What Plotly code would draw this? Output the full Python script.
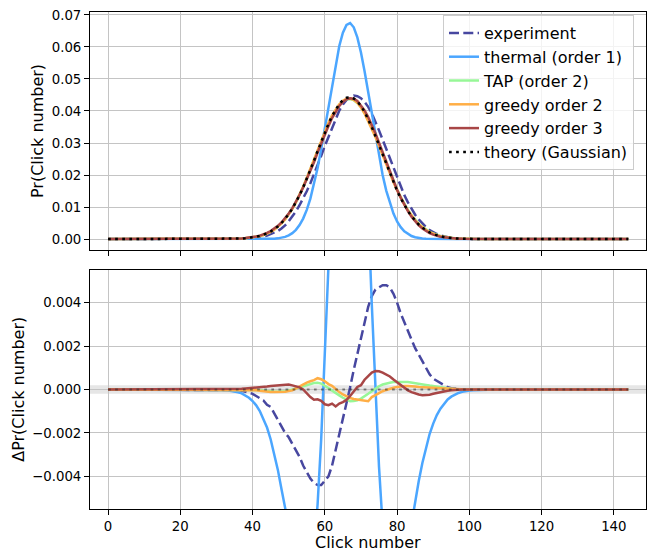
import plotly.graph_objects as go

# ---------------- data ----------------
clicks = list(range(145))
xticks = [0, 20, 40, 60, 80, 100, 120, 140]

# theory (Gaussian) probability, clicks 30..104 (zero elsewhere)
theory_start = 30
theory_core = [
    0.00001, 0.00002, 0.00003, 0.00004, 0.00006, 0.00009, 0.00013, 0.00018, 0.00027, 0.00038,
    0.00053, 0.00073, 0.00099, 0.00134, 0.00179, 0.00236, 0.00307, 0.00394, 0.00500, 0.00626,
    0.00776, 0.00949, 0.01146, 0.01368, 0.01612, 0.01876, 0.02157, 0.02448, 0.02747, 0.03043,
    0.03330, 0.03599, 0.03843, 0.04052, 0.04221, 0.04342, 0.04413, 0.04429, 0.04391, 0.04300,
    0.04158, 0.03973, 0.03749, 0.03494, 0.03217, 0.02925, 0.02627, 0.02331, 0.02042, 0.01768,
    0.01511, 0.01276, 0.01064, 0.00877, 0.00714, 0.00573, 0.00455, 0.00357, 0.00277, 0.00211,
    0.00160, 0.00119, 0.00088, 0.00064, 0.00046, 0.00033, 0.00023, 0.00016, 0.00011, 0.00007,
    0.00005, 0.00003, 0.00002, 0.00001, 0.00001,
]

# thermal (order 1) probability, clicks 44..91
thermal_start = 44
thermal_core = [
    0.00004, 0.00007, 0.00013, 0.00024, 0.00042, 0.00071, 0.00117, 0.00187, 0.00290, 0.00437,
    0.00641, 0.00913, 0.01263, 0.01698, 0.02219, 0.02817, 0.03474, 0.04164, 0.04848, 0.05487,
    0.06031, 0.06443, 0.06688, 0.06746, 0.06612, 0.06296, 0.05826, 0.05238, 0.04577, 0.03886,
    0.03205, 0.02569, 0.02001, 0.01514, 0.01114, 0.00796, 0.00552, 0.00373, 0.00244, 0.00156,
    0.00096, 0.00058, 0.00034, 0.00019, 0.00010, 0.00006, 0.00003, 0.00001,
]

# differences to theory, clicks 36..97
delta_start = 36
delta_experiment = [
    -0.00003, -0.00006, -0.00010, -0.00015, -0.00020, -0.00030, -0.00040, -0.00050, -0.00070, -0.00080,
    -0.00110, -0.00140, -0.00170, -0.00200, -0.00220, -0.00250, -0.00280, -0.00310, -0.00350, -0.00380,
    -0.00410, -0.00430, -0.00440, -0.00440, -0.00420, -0.00400, -0.00350, -0.00280, -0.00210, -0.00140,
    -0.00070, 0.00010, 0.00090, 0.00160, 0.00240, 0.00310, 0.00380, 0.00430, 0.00460, 0.00470,
    0.00480, 0.00480, 0.00470, 0.00440, 0.00400, 0.00350, 0.00310, 0.00270, 0.00230, 0.00190,
    0.00160, 0.00130, 0.00100, 0.00070, 0.00050, 0.00040, 0.00030, 0.00020, 0.00010, 0.00006,
    0.00003, 0.0,
]
delta_tap = [
    0.0, 0.0, 0.0, 0.0, 0.0, -0.00002, -0.00004, -0.00006, -0.00008, -0.00009,
    -0.00010, -0.00010, -0.00010, -0.00008, -0.00005, 0.0, 0.00006, 0.00012, 0.00018, 0.00023,
    0.00027, 0.00030, 0.00031, 0.00027, 0.00017, 0.00005, -0.00006, -0.00015, -0.00027, -0.00038,
    -0.00048, -0.00054, -0.00053, -0.00050, -0.00042, -0.00032, -0.00020, -0.00008, 0.00005, 0.00015,
    0.00023, 0.00028, 0.00031, 0.00034, 0.00035, 0.00035, 0.00035, 0.00034, 0.00032, 0.00030,
    0.00028, 0.00025, 0.00021, 0.00018, 0.00015, 0.00012, 0.00010, 0.00007, 0.00005, 0.00003,
    0.00002, 0.00001,
]
delta_greedy2 = [
    0.0, 0.0, 0.0, 0.0, 0.0, -0.00003, -0.00006, -0.00009, -0.00011, -0.00012,
    -0.00012, -0.00012, -0.00011, -0.00010, -0.00007, -0.00004, 0.00005, 0.00015, 0.00024, 0.00032,
    0.00038, 0.00043, 0.00052, 0.00047, 0.00038, 0.00025, 0.00017, 0.0, -0.00012, -0.00023,
    -0.00032, -0.00039, -0.00044, -0.00046, -0.00049, -0.00051, -0.00054, -0.00035, -0.00025, -0.00016,
    -0.00008, -0.00002, 0.00004, 0.00008, 0.00012, 0.00015, 0.00016, 0.00016, 0.00016, 0.00014,
    0.00011, 0.00010, 0.00009, 0.00008, 0.00006, 0.00005, 0.00004, 0.00003, 0.00002, 0.00001,
    0.0, 0.0,
]
delta_greedy3 = [
    0.00002, 0.00003, 0.00005, 0.00006, 0.00008, 0.00010, 0.00011, 0.00013, 0.00014, 0.00016,
    0.00018, 0.00020, 0.00021, 0.00022, 0.00023, 0.00019, 0.00014, 0.00010, 0.0, -0.00018,
    -0.00035, -0.00047, -0.00045, -0.00052, -0.00068, -0.00072, -0.00065, -0.00078, -0.00065, -0.00058,
    -0.00048, -0.00030, -0.00008, 0.00012, 0.00020, 0.00045, 0.00062, 0.00078, 0.00085, 0.00084,
    0.00078, 0.00070, 0.00060, 0.00046, 0.00033, 0.00020, 0.00008, -0.00004, -0.00012, -0.00018,
    -0.00023, -0.00026, -0.00026, -0.00024, -0.00020, -0.00016, -0.00012, -0.00009, -0.00006, -0.00004,
    -0.00002, -0.00001,
]

# ---------------- assemble full-length series ----------------
def place(start, core):
    out = [0.0] * len(clicks)
    for i, v in enumerate(core):
        out[start + i] = v
    return out

theory = place(theory_start, theory_core)
thermal = place(thermal_start, thermal_core)
d_exp = place(delta_start, delta_experiment)
d_tap = place(delta_start, delta_tap)
d_g2 = place(delta_start, delta_greedy2)
d_g3 = place(delta_start, delta_greedy3)

experiment = [t + d for t, d in zip(theory, d_exp)]
tap = [t + d for t, d in zip(theory, d_tap)]
greedy2 = [t + d for t, d in zip(theory, d_g2)]
greedy3 = [t + d for t, d in zip(theory, d_g3)]
d_thermal = [a - t for a, t in zip(thermal, theory)]
d_theory = [0.0 for _ in clicks]

FONT = "DejaVu Sans"
W = 2.5
styles = [
    ("experiment", experiment, d_exp, dict(color="#4747a0", width=W, dash="10px,4.3px")),
    ("thermal (order 1)", thermal, d_thermal, dict(color="#4ba6ff", width=W)),
    ("TAP (order 2)", tap, d_tap, dict(color="#97f797", width=W)),
    ("greedy order 2", greedy2, d_g2, dict(color="#ffae45", width=W)),
    ("greedy order 3", greedy3, d_g3, dict(color="#a84646", width=W)),
]

fig = go.Figure()
for name, top, bot, line in styles:
    fig.add_trace(go.Scatter(x=clicks, y=top, mode="lines", name=name, line=line,
                             xaxis="x", yaxis="y"))
fig.add_trace(go.Scatter(x=clicks, y=theory, mode="lines", name="theory (Gaussian)",
                         line=dict(color="black", width=W, dash="2.7px,4.4px"),
                         xaxis="x", yaxis="y"))
for name, top, bot, line in styles:
    fig.add_trace(go.Scatter(x=clicks, y=bot, mode="lines", name=name, line=line,
                             xaxis="x2", yaxis="y2", showlegend=False))
fig.add_trace(go.Scatter(x=clicks, y=d_theory, mode="lines", name="theory (Gaussian)",
                         line=dict(color="rgba(40,40,40,0.55)", width=2, dash="2.7px,4.4px"),
                         xaxis="x2", yaxis="y2", showlegend=False))

axis_common = dict(
    showline=True, linecolor="black", linewidth=1, mirror=True,
    ticks="outside", ticklen=5, tickwidth=1, tickcolor="black",
    showgrid=True, gridcolor="#c4c4c4", gridwidth=1, zeroline=False,
    automargin=False,
    tickfont=dict(family=FONT, size=13.3, color="black"),
)
xr = [-5.0, 148.9]
top_dom = [0.5211, 1.0]
bot_dom = [0.0, 0.4809]

fig.update_layout(
    template="none",
    width=649, height=550,
    margin=dict(l=90, r=3, t=12, b=41, autoexpand=False),
    paper_bgcolor="white", plot_bgcolor="white",
    font=dict(family=FONT, size=13.3, color="black"),
    xaxis=dict(axis_common, domain=[0, 1], anchor="y", range=xr, tickvals=xticks,
               showticklabels=False),
    yaxis=dict(axis_common, domain=top_dom, anchor="x", range=[-0.0034, 0.0709],
               tickvals=[0.0, 0.01, 0.02, 0.03, 0.04, 0.05, 0.06, 0.07],
               ticktext=["0.00", "0.01", "0.02", "0.03", "0.04", "0.05", "0.06", "0.07"]),
    xaxis2=dict(axis_common, domain=[0, 1], anchor="y2", range=xr, tickvals=xticks,
                ticktext=[str(v) for v in xticks]),
    yaxis2=dict(axis_common, domain=bot_dom, anchor="x2", range=[-0.0055, 0.0055],
                tickvals=[-0.004, -0.002, 0.0, 0.002, 0.004],
                ticktext=["\u22120.004", "\u22120.002", "0.000", "0.002", "0.004"]),
    legend=dict(x=(443 - 90) / 556, xanchor="left", y=(509 - 15) / 497, yanchor="top",
                bgcolor="rgba(255,255,255,0.8)", bordercolor="#cccccc", borderwidth=1,
                font=dict(family=FONT, size=16, color="black"), itemwidth=30),
    shapes=[dict(type="rect", xref="x2 domain", x0=0, x1=1, yref="y2",
                 y0=-0.0002, y1=0.0002, fillcolor="#e6e6e6", line=dict(width=0),
                 layer="below")],
    annotations=[
        dict(text="Pr(Click number)", xref="paper", yref="paper", x=-0.0935, y=0.7606,
             xanchor="center", yanchor="middle", textangle=-90, showarrow=False,
             font=dict(family=FONT, size=16, color="black")),
        dict(text="ΔPr(Click number)", xref="paper", yref="paper", x=-0.129, y=0.2404,
             xanchor="center", yanchor="middle", textangle=-90, showarrow=False,
             font=dict(family=FONT, size=16, color="black")),
        dict(text="Click number", xref="paper", yref="paper", x=0.5, y=(509 - 541.5) / 497,
             xanchor="center", yanchor="middle", showarrow=False, height=16,
             valign="middle", borderpad=0,
             font=dict(family=FONT, size=16, color="black")),
    ],
)

fig.write_html(
    "out.html",
    config={"displayModeBar": False},
    post_script="document.body.style.margin='0';document.body.style.padding='0';"
                "document.documentElement.style.overflow='hidden';",
)
